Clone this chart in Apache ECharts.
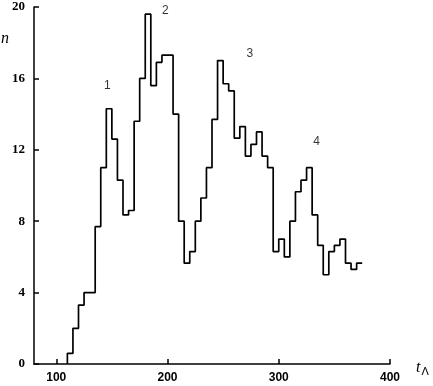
<!DOCTYPE html>
<html>
<head>
<meta charset="utf-8">
<script src="https://cdn.jsdelivr.net/npm/echarts@6/dist/echarts.min.js"></script>
<style>
html,body{margin:0;padding:0;background:#fff;}
#c{width:433px;height:386px;}
</style>
</head>
<body>
<div id="c"></div>
<script>
// Bin start times (t_A) and counts n
const binStarts = [110,115,120,125,130,135,140,145,150,155,160,165,170,175,180,185,190,195,200,205,
  210,215,220,225,230,235,240,245,250,255,260,265,270,275,280,285,290,295,300,305,
  310,315,320,325,330,335,340,345,350,355,360,365,370];
const binEnd = 375;
const counts = [0.6,2.0,3.3,4.0,4.0,7.7,11.0,14.3,12.6,10.3,8.35,8.6,13.6,16.0,19.6,15.6,16.9,17.3,17.3,14.0,
  8.0,5.65,6.3,8.0,9.3,11.0,13.7,17.0,15.7,15.3,12.65,13.3,11.65,12.3,13.0,11.65,11.0,6.3,7.0,6.0,
  8.0,9.65,10.3,11.0,8.35,6.65,5.0,6.3,6.65,7.0,5.65,5.3,5.65];
const xTicks = [100,200,300,400];
const yTicks = [0,4,8,12,16,20];
const peakLabels = ['1','2','3','4'];
const peakPos = [[146,15.6],[198,19.8],[274,17.4],[334,12.45]];

const stepData = [[binStarts[0], 0]];
binStarts.forEach((t, i) => stepData.push([t, counts[i]]));
stepData.push([binEnd, counts[counts.length - 1]]);

const serif = '"Liberation Serif", "DejaVu Serif", serif';
const sans = '"Liberation Sans", "DejaVu Sans", sans-serif';
const chart = echarts.init(document.getElementById('c'), null, {renderer: 'canvas'});
chart.setOption({
  animation: false,
  backgroundColor: '#fff',
  grid: {left: 34, right: 43, top: 7, bottom: 22, containLabel: false},
  xAxis: {
    type: 'value', min: 80, max: 400,
    axisLine: {show: true, onZero: false, lineStyle: {color: '#000', width: 1.5}},
    axisTick: {show: true, inside: true, length: 5, customValues: xTicks, lineStyle: {color: '#000', width: 1.5}},
    axisLabel: {customValues: xTicks, color: '#000', fontFamily: sans, fontWeight: 'bold', fontSize: 12, margin: 8},
    splitLine: {show: false}
  },
  yAxis: {
    type: 'value', min: 0, max: 20, interval: 4,
    axisLine: {show: true, lineStyle: {color: '#000', width: 1.5}},
    axisTick: {show: true, inside: true, length: 5, customValues: yTicks, lineStyle: {color: '#000', width: 1.5}},
    axisLabel: {customValues: yTicks, color: '#000', fontFamily: serif, fontWeight: 'bold', fontSize: 13, margin: 9},
    splitLine: {show: false}
  },
  series: [
    {
      type: 'line', step: 'end', data: stepData, showSymbol: false, symbol: 'none',
      lineStyle: {color: '#000', width: 1.7}, silent: true
    },
    {
      type: 'scatter', symbolSize: 0, silent: true,
      data: peakPos.map((p, i) => ({value: p, name: peakLabels[i]})),
      label: {show: true, position: 'inside', formatter: p => p.name, color: '#000', fontFamily: sans, fontSize: 12}
    }
  ],
  graphic: [
    {type: 'text', left: 1, top: 31, style: {text: 'n', font: 'italic 16px ' + serif, fill: '#000'}},
    {type: 'text', left: 416, top: 360, style: {
      text: '{t|t}{s|Λ}', fill: '#000',
      rich: {t: {fontFamily: serif, fontStyle: 'italic', fontSize: 16, color: '#000'},
             s: {fontFamily: sans, fontSize: 11, color: '#000', padding: [7, 0, 0, 1]}}
    }}
  ]
});
</script>
</body>
</html>
